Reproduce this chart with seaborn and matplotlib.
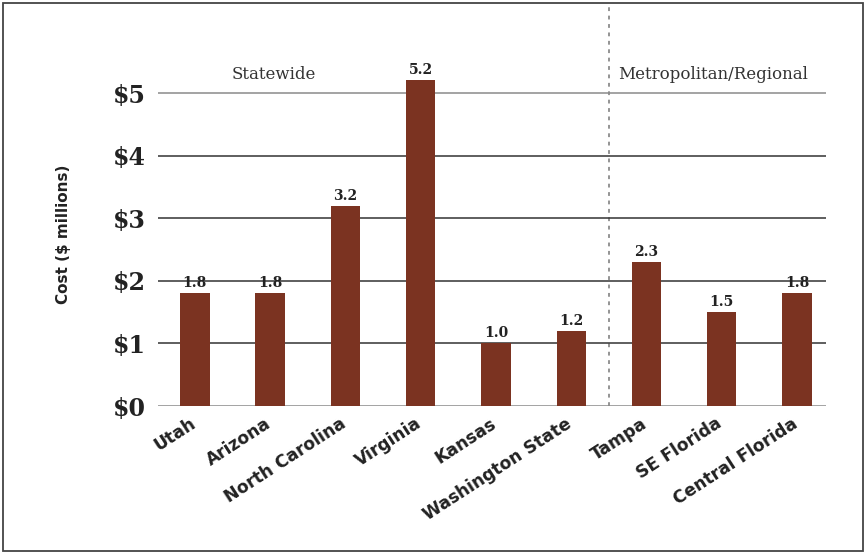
import matplotlib
matplotlib.use("Agg")
import matplotlib.pyplot as plt
import matplotlib.transforms as mtransforms
from matplotlib.patches import Rectangle
import seaborn as sns
import pandas as pd

# Data
regions = ["Utah", "Arizona", "North Carolina", "Virginia", "Kansas",
           "Washington State", "Tampa", "SE Florida", "Central Florida"]
costs = [1.8, 1.8, 3.2, 5.2, 1.0, 1.2, 2.3, 1.5, 1.8]
value_labels = ["1.8", "1.8", "3.2", "5.2", "1.0", "1.2", "2.3", "1.5", "1.8"]
y_ticks = [0, 1, 2, 3, 4, 5]
y_tick_labels = ["$0", "$1", "$2", "$3", "$4", "$5"]
group_labels = ["Statewide", "Metropolitan/Regional"]

df = pd.DataFrame({"region": regions, "cost": costs})

sns.set_theme(style="white")
bar_color = "#7b3321"

fig = plt.figure(figsize=(8.66, 5.54), dpi=100)
ax = fig.add_axes([0.1824, 0.2671, 0.7714, 0.6215])

sns.barplot(data=df, x="region", y="cost", color=bar_color, width=0.39,
            saturation=1, linewidth=0, ax=ax, zorder=3)

ax.set_xlim(-0.49, 8.385)
ax.set_ylim(0, 5.5)

# Horizontal rules
for v in y_ticks:
    c = "#8a8a8a" if v in (0, 5) else "#333333"
    ax.axhline(v, color=c, lw=1.1, zorder=2)

for s in ax.spines.values():
    s.set_visible(False)

ax.set_yticks(y_ticks)
ax.set_yticklabels(y_tick_labels, fontfamily="DejaVu Serif", fontweight="bold",
                   fontsize=17, color="#222222")
ax.tick_params(axis="y", length=0, pad=9)
ax.tick_params(axis="x", length=0, pad=6)
ax.set_xticks(range(len(regions)))
ax.set_xticklabels(regions, rotation=33, ha="right", rotation_mode="anchor",
                   fontfamily="DejaVu Sans", fontweight="bold", fontsize=12.3,
                   color="#222222")
# nudge the slanted category names slightly left so they end under the bars
shift = mtransforms.ScaledTranslation(-6 / 100, 0, fig.dpi_scale_trans)
for lbl in ax.get_xticklabels():
    lbl.set_transform(lbl.get_transform() + shift)
ax.set_xlabel("")
ax.set_ylabel("Cost ($ millions)", fontfamily="DejaVu Sans", fontweight="bold",
              fontsize=11, color="#222222", labelpad=30)

# Value labels above bars
for i, (v, t) in enumerate(zip(costs, value_labels)):
    ax.text(i, v + 0.05, t, ha="center", va="bottom", fontfamily="DejaVu Serif",
            fontweight="bold", fontsize=10, color="#222222", zorder=4)

# Divider between statewide and regional studies
ax.axvline(5.5, ymin=0, ymax=1.17, color="#777777", lw=1.1,
           ls=(0, (2.5, 3)), clip_on=False, zorder=1)

ax.text(1.05, 5.3, group_labels[0], ha="center", va="center",
        fontfamily="DejaVu Serif", fontsize=12, color="#333333")
ax.text(5.62, 5.3, group_labels[1], ha="left", va="center",
        fontfamily="DejaVu Serif", fontsize=12, color="#333333")

# Frame around the whole figure
fig.add_artist(Rectangle((3 / 866, 3 / 554), 860 / 866, 548 / 554,
                         transform=fig.transFigure, fill=False,
                         edgecolor="#444444", lw=1.3))

fig.savefig("out.png", dpi=100)
